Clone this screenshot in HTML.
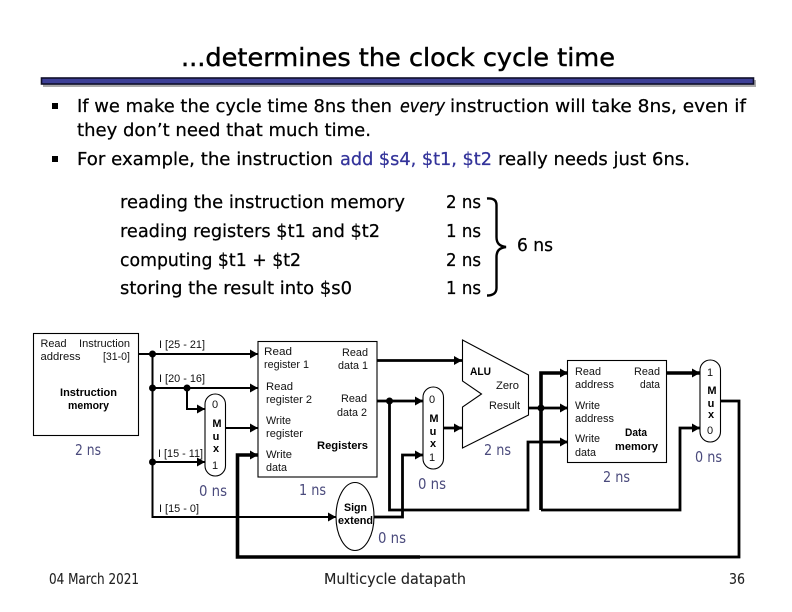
<!DOCTYPE html>
<html>
<head>
<meta charset="utf-8">
<style>
html,body{margin:0;padding:0;background:#fff}
svg{display:block}
.t{font-family:"DejaVu Sans","Liberation Sans",sans-serif;fill:#000;stroke:#000;stroke-width:.25}
.h{font-size:25px;stroke-width:.45}
.b{font-size:18px}
.f{font-size:15px;fill:#222;stroke:#222;stroke-width:.1}
.n{font-family:"DejaVu Sans","Liberation Sans",sans-serif;font-size:15.5px;fill:#4a4a7c}
.l{font-family:"Liberation Sans",sans-serif;font-size:11px;fill:#111}
.m{font-family:"Liberation Sans",sans-serif;font-size:11px;font-weight:bold;fill:#000}
.c{text-anchor:middle}
.w1{fill:none;stroke:#000;stroke-width:2}
.w2{fill:none;stroke:#000;stroke-width:2.8}
.w3{fill:none;stroke:#000;stroke-width:3.6}
.box{fill:#fff;stroke:#000;stroke-width:1.1}
</style>
</head>
<body>
<svg xmlns="http://www.w3.org/2000/svg" width="792" height="612" viewBox="0 0 792 612">
<defs>
<marker id="a" markerUnits="userSpaceOnUse" markerWidth="9" markerHeight="10" refX="8" refY="4.500" orient="auto"><path d="M0 0L8 4.500L0 9Z" fill="#000"/></marker>
</defs>
<rect width="792" height="612" fill="#fff"/>

<text class="t h" x="181" y="66" textLength="434" lengthAdjust="spacingAndGlyphs">...determines the clock cycle time</text>
<rect x="43" y="80" width="713" height="7" fill="#aaa"/>
<rect x="41.500" y="78" width="712" height="6" fill="#3d3f96" stroke="#10102a" stroke-width="1.600"/>

<rect x="52" y="103" width="6" height="6" fill="#000"/>
<rect x="52" y="156" width="6" height="6" fill="#000"/>
<text class="t b" x="77" y="112" textLength="315" lengthAdjust="spacingAndGlyphs">If we make the cycle time 8ns then</text>
<text class="t b" x="400" y="112" textLength="45" lengthAdjust="spacingAndGlyphs" font-style="italic">every</text>
<text class="t b" x="450" y="112" textLength="296" lengthAdjust="spacingAndGlyphs">instruction will take 8ns, even if</text>
<text class="t b" x="77" y="136" textLength="294" lengthAdjust="spacingAndGlyphs">they don’t need that much time.</text>
<text class="t b" x="77" y="165" textLength="256" lengthAdjust="spacingAndGlyphs">For example, the instruction</text>
<text class="t b" x="340" y="165" textLength="152" lengthAdjust="spacingAndGlyphs" style="fill:#33339a;stroke:#33339a">add $s4, $t1, $t2</text>
<text class="t b" x="498" y="165" textLength="192" lengthAdjust="spacingAndGlyphs">really needs just 6ns.</text>

<text class="t b" x="120" y="208" textLength="285" lengthAdjust="spacingAndGlyphs">reading the instruction memory</text>
<text class="t b" x="120" y="237" textLength="260" lengthAdjust="spacingAndGlyphs">reading registers $t1 and $t2</text>
<text class="t b" x="120" y="266" textLength="181" lengthAdjust="spacingAndGlyphs">computing $t1 + $t2</text>
<text class="t b" x="120" y="294" textLength="232" lengthAdjust="spacingAndGlyphs">storing the result into $s0</text>
<text class="t b" x="446" y="208" textLength="35" lengthAdjust="spacingAndGlyphs">2 ns</text>
<text class="t b" x="446" y="237" textLength="35" lengthAdjust="spacingAndGlyphs">1 ns</text>
<text class="t b" x="446" y="266" textLength="35" lengthAdjust="spacingAndGlyphs">2 ns</text>
<text class="t b" x="446" y="294" textLength="35" lengthAdjust="spacingAndGlyphs">1 ns</text>
<path d="M487 198.500C493 198 496.500 200 496.500 205V237C496.500 243 499 246 506 247C499 248 496.500 251 496.500 257V288C496.500 293 493 295.500 487 295.500" fill="none" stroke="#000" stroke-width="2.400"/>
<text class="t b" x="517" y="251" textLength="36" lengthAdjust="spacingAndGlyphs">6 ns</text>

<!-- wires -->
<polyline class="w1" points="138,354 258,354" marker-end="url(#a)"/>
<polyline class="w1" points="152.500,354 152.500,517 336,517" marker-end="url(#a)"/>
<polyline class="w1" points="152.500,388 258,388" marker-end="url(#a)"/>
<polyline class="w1" points="187,388 187,409 205,409" marker-end="url(#a)"/>
<polyline class="w1" points="152.500,462 205,462" marker-end="url(#a)"/>
<polyline class="w1" points="225,428 258,428" marker-end="url(#a)"/>
<polyline class="w2" points="377,360.500 462,360.500" marker-end="url(#a)"/>
<polyline class="w2" points="377,401 423,401" marker-end="url(#a)"/>
<polyline class="w2" points="389.500,401 389.500,510 528,510 528,442 568,442" marker-end="url(#a)"/>
<polyline class="w2" points="374,517 402.500,517 402.500,455 423,455" marker-end="url(#a)"/>
<polyline class="w2" points="443,428 462,428" marker-end="url(#a)"/>
<polyline class="w2" points="529,408 568,408" marker-end="url(#a)"/>
<polyline class="w3" points="541,510 541,373 568,373" marker-end="url(#a)"/>
<polyline class="w2" points="541,510 680,510 680,428 700,428" marker-end="url(#a)"/>
<polyline class="w3" points="666,373 700,373" marker-end="url(#a)"/>
<polyline class="w2" points="720,401 739,401 739,557 400,557"/>
<polyline class="w3" points="420,557 237.500,557 237.500,455 258,455" marker-end="url(#a)"/>
<circle cx="152.500" cy="354" r="3.500"/><circle cx="152.500" cy="388" r="3.500"/><circle cx="152.500" cy="462" r="3.500"/>
<circle cx="187" cy="388" r="3.500"/><circle cx="389.500" cy="401" r="3.500"/><circle cx="541" cy="408" r="3.500"/>

<!-- shapes -->
<rect class="box" x="33.500" y="333.500" width="105" height="102"/>
<rect class="box" x="258" y="341.500" width="119" height="135.500"/>
<rect class="box" x="567.500" y="360.500" width="99" height="102"/>
<rect class="box" x="205" y="394" width="20.500" height="82" rx="10.200"/>
<rect class="box" x="423" y="387" width="20.500" height="82" rx="10.200"/>
<rect class="box" x="700" y="360" width="20.500" height="82" rx="10.200"/>
<ellipse class="box" cx="355" cy="516.500" rx="19" ry="34"/>
<polygon class="box" points="462.500,340 528.500,375 528.500,415 462.500,448 462.500,407 481.500,394 462.500,381"/>

<!-- instruction memory -->
<text class="l" x="40.500" y="347" textLength="26" lengthAdjust="spacingAndGlyphs">Read</text>
<text class="l" x="79" y="347" textLength="51" lengthAdjust="spacingAndGlyphs">Instruction</text>
<text class="l" x="40.500" y="360" textLength="40" lengthAdjust="spacingAndGlyphs">address</text>
<text class="l" x="103" y="360" textLength="27" lengthAdjust="spacingAndGlyphs">[31-0]</text>
<text class="m" x="60" y="396" textLength="57" lengthAdjust="spacingAndGlyphs">Instruction</text>
<text class="m" x="68" y="409" textLength="41" lengthAdjust="spacingAndGlyphs">memory</text>
<text class="n" x="75" y="455" textLength="26" lengthAdjust="spacingAndGlyphs">2 ns</text>

<text class="l" x="159" y="348" textLength="46" lengthAdjust="spacingAndGlyphs">I [25 - 21]</text>
<text class="l" x="159" y="382" textLength="46" lengthAdjust="spacingAndGlyphs">I [20 - 16]</text>
<text class="l" x="158" y="457" textLength="45" lengthAdjust="spacingAndGlyphs">I [15 - 11]</text>
<text class="l" x="159" y="512" textLength="40" lengthAdjust="spacingAndGlyphs">I [15 - 0]</text>
<text class="n" x="199" y="496" textLength="28" lengthAdjust="spacingAndGlyphs">0 ns</text>

<!-- mux 1 -->
<text class="l c" x="215" y="408">0</text>
<text class="m c" x="217" y="427">M</text>
<text class="m c" x="216" y="440">u</text>
<text class="m c" x="216" y="452">x</text>
<text class="l c" x="215" y="469">1</text>

<!-- registers -->
<text class="l" x="264" y="355" textLength="28" lengthAdjust="spacingAndGlyphs">Read</text>
<text class="l" x="264" y="368" textLength="45" lengthAdjust="spacingAndGlyphs">register 1</text>
<text class="l" x="342" y="356" textLength="26" lengthAdjust="spacingAndGlyphs">Read</text>
<text class="l" x="338" y="369" textLength="30" lengthAdjust="spacingAndGlyphs">data 1</text>
<text class="l" x="266" y="390" textLength="27" lengthAdjust="spacingAndGlyphs">Read</text>
<text class="l" x="266" y="403" textLength="46" lengthAdjust="spacingAndGlyphs">register 2</text>
<text class="l" x="341" y="402" textLength="26" lengthAdjust="spacingAndGlyphs">Read</text>
<text class="l" x="337" y="416" textLength="30" lengthAdjust="spacingAndGlyphs">data 2</text>
<text class="l" x="266" y="424" textLength="25" lengthAdjust="spacingAndGlyphs">Write</text>
<text class="l" x="266" y="437" textLength="37" lengthAdjust="spacingAndGlyphs">register</text>
<text class="m" x="317" y="449" textLength="51" lengthAdjust="spacingAndGlyphs">Registers</text>
<text class="l" x="266" y="458" textLength="26" lengthAdjust="spacingAndGlyphs">Write</text>
<text class="l" x="266" y="471" textLength="21" lengthAdjust="spacingAndGlyphs">data</text>
<text class="n" x="299" y="495" textLength="27" lengthAdjust="spacingAndGlyphs">1 ns</text>

<!-- sign extend -->
<text class="m" x="344" y="511" textLength="23" lengthAdjust="spacingAndGlyphs">Sign</text>
<text class="m" x="338" y="524" textLength="35" lengthAdjust="spacingAndGlyphs">extend</text>
<text class="n" x="378" y="543" textLength="28" lengthAdjust="spacingAndGlyphs">0 ns</text>

<!-- mux 2 -->
<text class="l c" x="432" y="403">0</text>
<text class="m c" x="434" y="422">M</text>
<text class="m c" x="433" y="435">u</text>
<text class="m c" x="433" y="447">x</text>
<text class="l c" x="432" y="461">1</text>
<text class="n" x="418" y="489" textLength="28" lengthAdjust="spacingAndGlyphs">0 ns</text>

<!-- ALU -->
<text class="m" x="470" y="375" textLength="21" lengthAdjust="spacingAndGlyphs">ALU</text>
<text class="l" x="496" y="389" textLength="23" lengthAdjust="spacingAndGlyphs">Zero</text>
<text class="l" x="489" y="409" textLength="31" lengthAdjust="spacingAndGlyphs">Result</text>
<text class="n" x="484" y="455" textLength="27" lengthAdjust="spacingAndGlyphs">2 ns</text>

<!-- data memory -->
<text class="l" x="575" y="375" textLength="26" lengthAdjust="spacingAndGlyphs">Read</text>
<text class="l" x="575" y="388" textLength="39" lengthAdjust="spacingAndGlyphs">address</text>
<text class="l" x="634" y="375" textLength="26" lengthAdjust="spacingAndGlyphs">Read</text>
<text class="l" x="640" y="388" textLength="20" lengthAdjust="spacingAndGlyphs">data</text>
<text class="l" x="575" y="409" textLength="25" lengthAdjust="spacingAndGlyphs">Write</text>
<text class="l" x="575" y="422" textLength="39" lengthAdjust="spacingAndGlyphs">address</text>
<text class="m" x="625" y="436" textLength="22" lengthAdjust="spacingAndGlyphs">Data</text>
<text class="m" x="615" y="450" textLength="43" lengthAdjust="spacingAndGlyphs">memory</text>
<text class="l" x="575" y="442" textLength="25" lengthAdjust="spacingAndGlyphs">Write</text>
<text class="l" x="575" y="456" textLength="21" lengthAdjust="spacingAndGlyphs">data</text>
<text class="n" x="603" y="482" textLength="27" lengthAdjust="spacingAndGlyphs">2 ns</text>

<!-- mux 3 -->
<text class="l c" x="710" y="376">1</text>
<text class="m c" x="712" y="394">M</text>
<text class="m c" x="711" y="407">u</text>
<text class="m c" x="711" y="418">x</text>
<text class="l c" x="710" y="434">0</text>
<text class="n" x="695" y="462" textLength="27" lengthAdjust="spacingAndGlyphs">0 ns</text>

<!-- footer -->
<text class="t f" x="49" y="584" textLength="90" lengthAdjust="spacingAndGlyphs">04 March 2021</text>
<text class="t f" x="324" y="584" textLength="142" lengthAdjust="spacingAndGlyphs">Multicycle datapath</text>
<text class="t f" x="729" y="584" textLength="16" lengthAdjust="spacingAndGlyphs">36</text>
</svg>
</body>
</html>
